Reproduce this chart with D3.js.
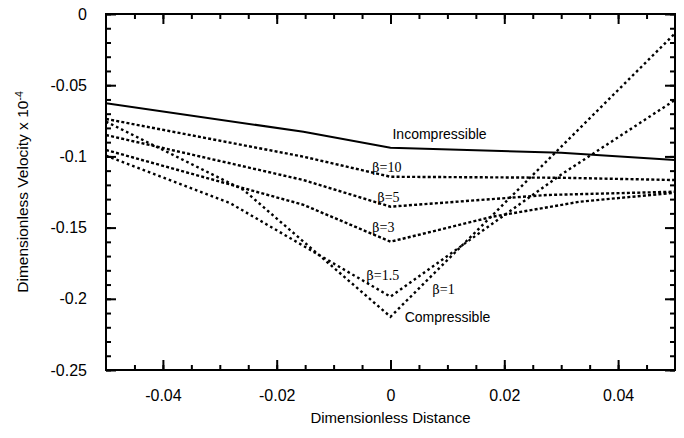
<!DOCTYPE html>
<html><head><meta charset="utf-8">
<script src="https://cdn.jsdelivr.net/npm/d3@7"></script>
<style>body{margin:0;background:#fff}</style>
</head><body><svg id="c" width="684" height="438"></svg>
<script>
// ---- data ----
const xTicks = [-0.04, -0.02, 0, 0.02, 0.04];
const xTickLabels = ["-0.04", "-0.02", "0", "0.02", "0.04"];
const yTicks = [0, -0.05, -0.1, -0.15, -0.2, -0.25];
const yTickLabels = ["0", "-0.05", "-0.1", "-0.15", "-0.2", "-0.25"];

const incompX = [-0.05, -0.0153, 0, 0.03, 0.05];
const incompY = [-0.0627, -0.0827, -0.0939, -0.0974, -0.1025];

const beta10X = [-0.05, -0.0153, 0, 0.03, 0.05];
const beta10Y = [-0.0737, -0.1002, -0.1143, -0.1150, -0.1166];

const beta5X = [-0.05, -0.0153, 0, 0.0275, 0.05];
const beta5Y = [-0.0850, -0.1166, -0.1353, -0.1271, -0.1248];

const beta3X = [-0.05, -0.0153, 0, 0.018, 0.0333, 0.05];
const beta3Y = [-0.0955, -0.1340, -0.1599, -0.1423, -0.1318, -0.1255];

const beta15X = [-0.05, -0.0281, 0, 0.0299, 0.05];
const beta15Y = [-0.0995, -0.1330, -0.1985, -0.1130, -0.0604];

const compX = [-0.05, -0.0258, 0, 0.05];
const compY = [-0.0756, -0.1236, -0.2126, -0.0136];

const annoText = ["Incompressible", "β=10", "β=5", "β=3", "β=1.5", "β=1", "Compressible"];
const annoX = [0.00035, -0.0032, -0.0023, -0.0032, -0.0042, 0.0074, 0.0025];
const annoY = [-0.0843, -0.1072, -0.1283, -0.1494, -0.1833, -0.1931, -0.2128];
const annoSerif = [false, true, true, true, true, true, false];

// ---- layout ----
const W = 684, H = 438;
const m = {l: 106, r: 9, t: 14, b: 68};
const svg = d3.select("#c");
const x = d3.scaleLinear().domain([-0.05, 0.05]).range([m.l, W - m.r]);
const y = d3.scaleLinear().domain([-0.25, 0]).range([H - m.b, m.t]);

const sans = "'Liberation Sans', Arial, Helvetica, sans-serif";
const serif = "'Liberation Serif', 'Times New Roman', serif";

const xMinor = d3.range(-0.045, 0.0451, 0.005);
const yMinor = d3.range(0, -0.2501, -0.01);

function styleAxis(g) {
  g.select(".domain").remove();
  g.selectAll("line").attr("stroke", "#000").attr("stroke-width", 2);
}

// bottom
svg.append("g").attr("transform", `translate(0,${y(-0.25)})`)
  .call(d3.axisBottom(x).tickValues(xMinor).tickSize(-5).tickFormat(""))
  .call(styleAxis);
svg.append("g").attr("transform", `translate(0,${y(-0.25)})`)
  .call(d3.axisBottom(x).tickValues(xTicks).tickSize(-10).tickPadding(20)
        .tickFormat((d, i) => xTickLabels[i]))
  .call(styleAxis)
  .call(g => g.selectAll("text").attr("font-family", sans).attr("font-size", 16).attr("fill", "#000"));
// top
svg.append("g").attr("transform", `translate(0,${y(0)})`)
  .call(d3.axisTop(x).tickValues(xMinor).tickSize(-5).tickFormat(""))
  .call(styleAxis);
svg.append("g").attr("transform", `translate(0,${y(0)})`)
  .call(d3.axisTop(x).tickValues(xTicks).tickSize(-10).tickFormat(""))
  .call(styleAxis);
// left
svg.append("g").attr("transform", `translate(${x(-0.05)},0)`)
  .call(d3.axisLeft(y).tickValues(yMinor).tickSize(-5).tickFormat(""))
  .call(styleAxis);
svg.append("g").attr("transform", `translate(${x(-0.05)},0)`)
  .call(d3.axisLeft(y).tickValues(yTicks).tickSize(-10).tickPadding(19)
        .tickFormat((d, i) => yTickLabels[i]))
  .call(styleAxis)
  .call(g => g.selectAll("text").attr("font-family", sans).attr("font-size", 16).attr("fill", "#000"));
// right
svg.append("g").attr("transform", `translate(${x(0.05)},0)`)
  .call(d3.axisRight(y).tickValues(yMinor).tickSize(-5).tickFormat(""))
  .call(styleAxis);
svg.append("g").attr("transform", `translate(${x(0.05)},0)`)
  .call(d3.axisRight(y).tickValues(yTicks).tickSize(-10).tickFormat(""))
  .call(styleAxis);

// frame
svg.append("rect").attr("x", x(-0.05)).attr("y", y(0))
  .attr("width", x(0.05) - x(-0.05)).attr("height", y(-0.25) - y(0))
  .attr("fill", "none").attr("stroke", "#000").attr("stroke-width", 2);

// lines
svg.append("clipPath").attr("id", "pc").append("rect")
  .attr("x", x(-0.05)).attr("y", y(0)).attr("width", x(0.05) - x(-0.05)).attr("height", y(-0.25) - y(0));
const line = d3.line().x(d => x(d[0])).y(d => y(d[1]));
const zip = (a, b) => a.map((v, i) => [v, b[i]]);
const series = [
  {xs: incompX, ys: incompY, dash: null},
  {xs: beta10X, ys: beta10Y, dash: "3,2.2"},
  {xs: beta5X, ys: beta5Y, dash: "3,2.2"},
  {xs: beta3X, ys: beta3Y, dash: "3,2.2"},
  {xs: beta15X, ys: beta15Y, dash: "2.6,3"},
  {xs: compX, ys: compY, dash: "2.6,3"}
];
const lg = svg.append("g").attr("clip-path", "url(#pc)");
series.forEach(s => {
  lg.append("path").attr("d", line(zip(s.xs, s.ys)))
    .attr("fill", "none").attr("stroke", "#000")
    .attr("stroke-width", s.dash ? 2.4 : 2)
    .attr("stroke-dasharray", s.dash);
});

// annotations (β drawn in DejaVu Serif, rest in Times-like serif)
annoText.forEach((t, i) => {
  const tx = svg.append("text").attr("x", x(annoX[i])).attr("y", y(annoY[i])).attr("dy", "0.35em")
    .attr("font-family", annoSerif[i] ? serif : sans)
    .attr("font-size", 14).attr("fill", "#000");
  if (annoSerif[i] && t.startsWith("β")) {
    tx.append("tspan").attr("font-family", "'DejaVu Serif', serif").attr("font-size", 12.5).text("β");
    tx.append("tspan").text(t.slice(1));
  } else {
    tx.text(t);
  }
});

// axis titles
svg.append("text").attr("x", (x(-0.05) + x(0.05)) / 2).attr("y", 423)
  .attr("text-anchor", "middle").attr("font-family", sans).attr("font-size", 15)
  .attr("fill", "#000").text("Dimensionless Distance");
const yt = svg.append("text").attr("transform", `translate(28,${(y(0) + y(-0.25)) / 2}) rotate(-90)`)
  .attr("text-anchor", "middle").attr("font-family", sans).attr("font-size", 15.5).attr("fill", "#000");
yt.append("tspan").text("Dimensionless Velocity x 10");
yt.append("tspan").attr("dy", "-0.45em").attr("font-size", 10.5).text("-4");
</script>
</body></html>
